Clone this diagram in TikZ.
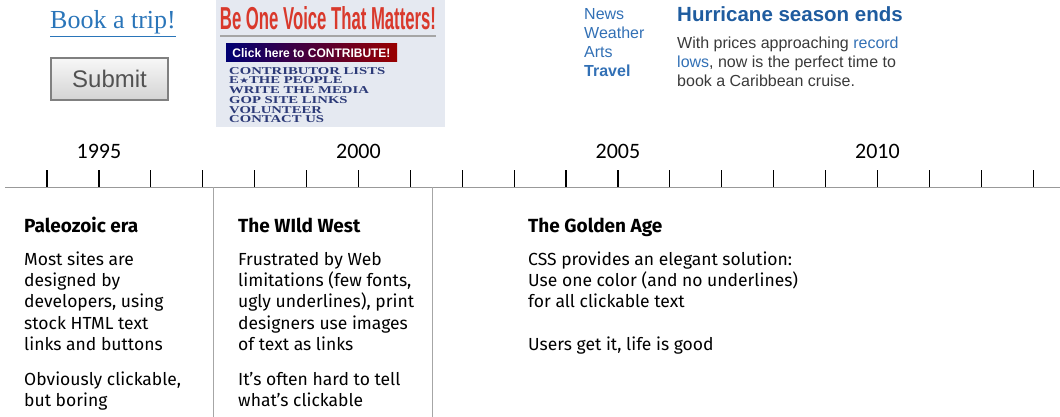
\documentclass[tikz,border=0pt]{standalone}
\usepackage{fontspec}
\setmainfont{Fira Sans}
\newfontfamily\yearfont{Carlito}
\newfontfamily\webfont{Liberation Sans}
\newfontfamily\serifweb{Liberation Serif}
\newfontfamily\starfont{DejaVu Sans}
\usepackage{graphicx}
\definecolor{linkblue}{HTML}{2A75B9}
\definecolor{navblue}{HTML}{3270B5}
\definecolor{headblue}{HTML}{1F5C9F}
\definecolor{bodygray}{HTML}{3A3A3A}
\definecolor{voicered}{HTML}{D9392C}
\definecolor{listnavy}{HTML}{2C3A78}
\definecolor{shotbg}{HTML}{E5E9F1}

\begin{document}
\begin{tikzpicture}[x=1pt, y=-1pt,
era/.style = {anchor=base west, inner sep=0, font=\fontsize{19}{22}\selectfont\bfseries},
blurb/.style = {anchor=north west, inner sep=0, align=left, font=\fontsize{17.5}{21.3}\selectfont},
year/.style = {anchor=base, inner sep=0, font=\yearfont\fontsize{22}{26}\selectfont},
tick/.style = {line width=1.2pt, black},
axis/.style = {line width=1pt, black!40},
divider/.style = {line width=1pt, black!35},
navlink/.style = {anchor=north west, inner sep=0, align=left, text=navblue, font=\webfont\fontsize{16}{19}\selectfont},
button/.style = {draw=black!50, line width=1.5pt, top color=black!3, bottom color=black!17, minimum width=117, minimum height=42, inner sep=0},
clickbtn/.style = {left color=blue!45!black, middle color=blue!35!black, right color=red!60!black, minimum width=171, minimum height=18, inner sep=0}
]
\useasboundingbox (0,0) rectangle (1060,417);

\node [anchor=base, inner sep=0, text=linkblue, font=\serifweb\fontsize{26}{30}\selectfont] (book) at (113,29) {\underline{Book a trip!}};
\node [button, text=black!68, font=\webfont\fontsize{24}{28}\selectfont] (submit) at (109.5,79) {Submit};

\fill [shotbg] (216,0) rectangle (445,127);
\node [inner sep=0, text=voicered] (voice) at (328,18) {\resizebox{216pt}{23pt}{\webfont\bfseries Be One Voice That Matters!}};
\draw [line width=2pt, black!35] (220,36) -- (436,36);
\node [clickbtn, text=white] (contribute) at (311.5,53) {\resizebox{158pt}{9pt}{\webfont\bfseries Click here to CONTRIBUTE!}};
\node [anchor=north west, inner sep=0, text=listnavy] (sitelinks) at (229,67) {\scalebox{1.4}[1]{\serifweb\bfseries\fontsize{10.5}{9.3}\selectfont
  \begin{tabular}{@{}l@{}}
  CONTRIBUTOR LISTS\\
  E{\starfont\fontsize{8}{9}\selectfont ★}THE PEOPLE\\
  WRITE THE MEDIA\\
  GOP SITE LINKS\\
  VOLUNTEER\\
  CONTACT US
  \end{tabular}}};

\node [navlink] (nav) at (584,5.7) {\strut News\\ Weather\\ Arts\\ \textbf{Travel}};
\node [anchor=base west, inner sep=0, text=headblue, font=\webfont\bfseries\fontsize{20.5}{24}\selectfont] (hurricane) at (677,22) {Hurricane season ends};
\node [anchor=north west, inner sep=0, align=left, text=bodygray, font=\webfont\fontsize{16}{19}\selectfont] (cruise) at (677,35.2) {\strut With prices approaching \textcolor{navblue}{record}\\ \textcolor{navblue}{lows}, now is the perfect time to\\ book a Caribbean cruise.};

\node [year] (y1995) at (98.9,158) {1995};
\node [year] (y2000) at (358.4,158) {2000};
\node [year] (y2005) at (617.9,158) {2005};
\node [year] (y2010) at (877.4,158) {2010};

\draw [axis] (5,187) -- (1060,187);
\foreach \i in {0,...,19}
  \draw [tick] (47+51.9*\i,170) -- (47+51.9*\i,187);
\draw [divider] (213,187) -- (213,417);
\draw [divider] (432,187) -- (432,417);

\node [era] (paleo) at (24,232) {Paleozoic era};
\node [blurb] (paleotext) at (24,250) {\strut Most sites are\\ designed by\\ developers, using\\ stock HTML text\\ links and buttons\\[13.7pt] Obviously clickable,\\ but boring};

\node [era] (wild) at (238,232) {The WIld West};
\node [blurb] (wildtext) at (238,250) {\strut Frustrated by Web\\ limitations (few fonts,\\ ugly underlines), print\\ designers use images\\ of text as links\\[13.7pt] It’s often hard to tell\\ what’s clickable};

\node [era] (golden) at (528,232) {The Golden Age};
\node [blurb] (goldentext) at (528,250) {\strut CSS provides an elegant solution:\\ Use one color (and no underlines)\\ for all clickable text\\[21.3pt] Users get it, life is good};

\end{tikzpicture}
\end{document}
